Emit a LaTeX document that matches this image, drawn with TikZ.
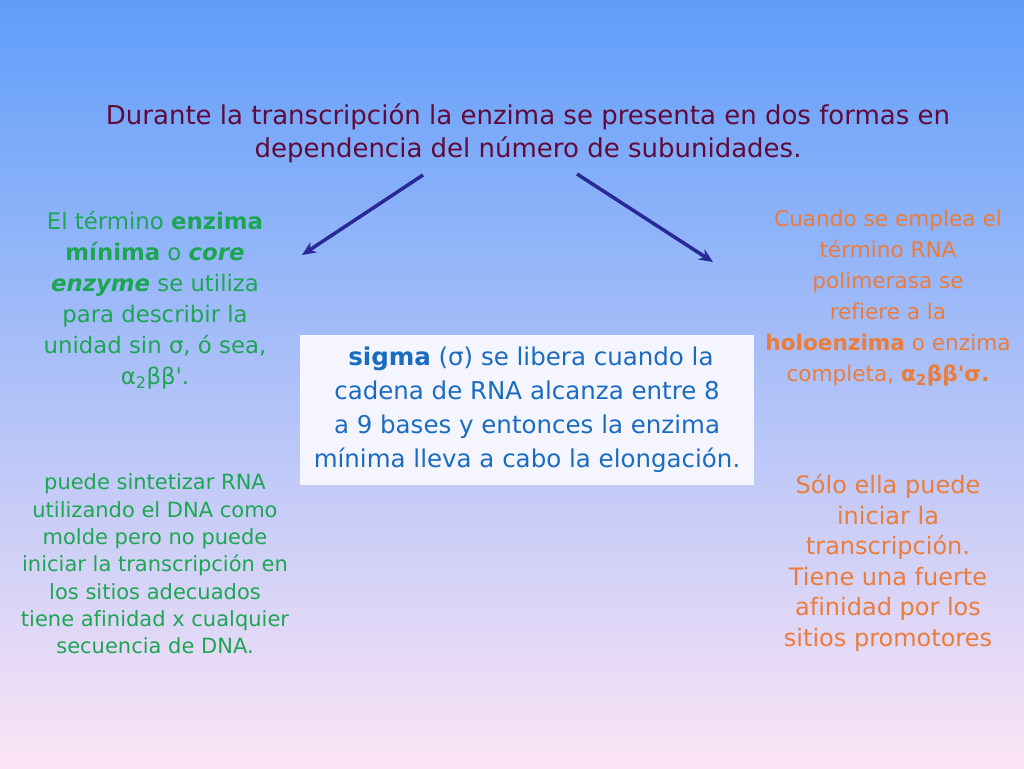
\documentclass[tikz,border=0pt]{standalone}
\usepackage{fontspec}
\setmainfont{DejaVu Sans}[Ligatures={TeXOff,CommonOff}]
\usepackage{xcolor}
\usepackage{tikz}
\usetikzlibrary{arrows.meta,positioning,calc}

\definecolor{skytop}{RGB}{96,158,250}
\definecolor{skymid}{RGB}{196,212,240}
\definecolor{skybot}{RGB}{252,228,246}
\definecolor{titlered}{RGB}{96,10,58}
\definecolor{coregreen}{RGB}{28,166,82}
\definecolor{holoorange}{RGB}{236,124,58}
\definecolor{sigmablue}{RGB}{26,108,192}
\definecolor{arrowblue}{RGB}{40,40,150}

\tikzset{
  txt/.style={align=center,inner sep=0pt},
  arrowline/.style={line width=3.5pt,arrowblue,-{Stealth[length=14pt,width=12pt]}}
}

\begin{document}
\begin{tikzpicture}[x=1pt,y=-1pt]
  % Background
  \shade[top color=skytop,middle color=skymid,bottom color=skybot] (0,0) rectangle (1024,768);
  \useasboundingbox (0,0) rectangle (1024,768);
  % Title
  \node[txt,titlered,font=\fontsize{26}{33}\selectfont] (title) at (528,133)
    {Durante la transcripción la enzima se presenta en dos formas en\\dependencia del número de subunidades.};
  % Arrows
  \coordinate (ltail) at (423,175);
  \coordinate (lhead) at (302,255);
  \coordinate (rtail) at (577,174);
  \coordinate (rhead) at (713,262);
  \draw[arrowline] (ltail) -- (lhead);
  \draw[arrowline] (rtail) -- (rhead);
  % Core enzyme
  \node[txt,coregreen,font=\fontsize{22.8}{31}\selectfont] (core) at (155,300)
    {El término \textbf{enzima}\\\textbf{mínima} o \textbf{\textit{core}}\\\textbf{\textit{enzyme}} se utiliza\\para describir la\\unidad sin σ, ó sea,\\α\textsubscript{2}ββ'.};
  \node[txt,coregreen,font=\fontsize{21}{27.3}\selectfont] (coreinfo) at (155,564)
    {puede sintetizar RNA\\utilizando el DNA como\\molde pero no puede\\iniciar la transcripción en\\los sitios adecuados\\tiene afinidad x cualquier\\secuencia de DNA.};
  % Holoenzyme
  \node[txt,holoorange,font=\fontsize{21.6}{31}\selectfont] (holo) at (888,298)
    {Cuando se emplea el\\término RNA\\polimerasa se\\refiere a la\\\textbf{holoenzima} o enzima\\completa, \textbf{α\textsubscript{2}ββ'σ.}};
  \node[txt,holoorange,font=\fontsize{24}{30.5}\selectfont] (holoinfo) at (888,563)
    {Sólo ella puede\\iniciar la\\transcripción.\\Tiene una fuerte\\afinidad por los\\sitios promotores};
  % Sigma box
  \node[txt,fill=white!96!blue,minimum width=454pt,minimum height=150pt,text=sigmablue,
    font=\fontsize{24.5}{34}\selectfont] (sigma) at (527,410)
    {\ \textbf{sigma} (σ) se libera cuando la\\cadena de RNA alcanza entre 8\\a 9 bases y entonces la enzima\\mínima lleva a cabo la elongación.};
\end{tikzpicture}
\end{document}
